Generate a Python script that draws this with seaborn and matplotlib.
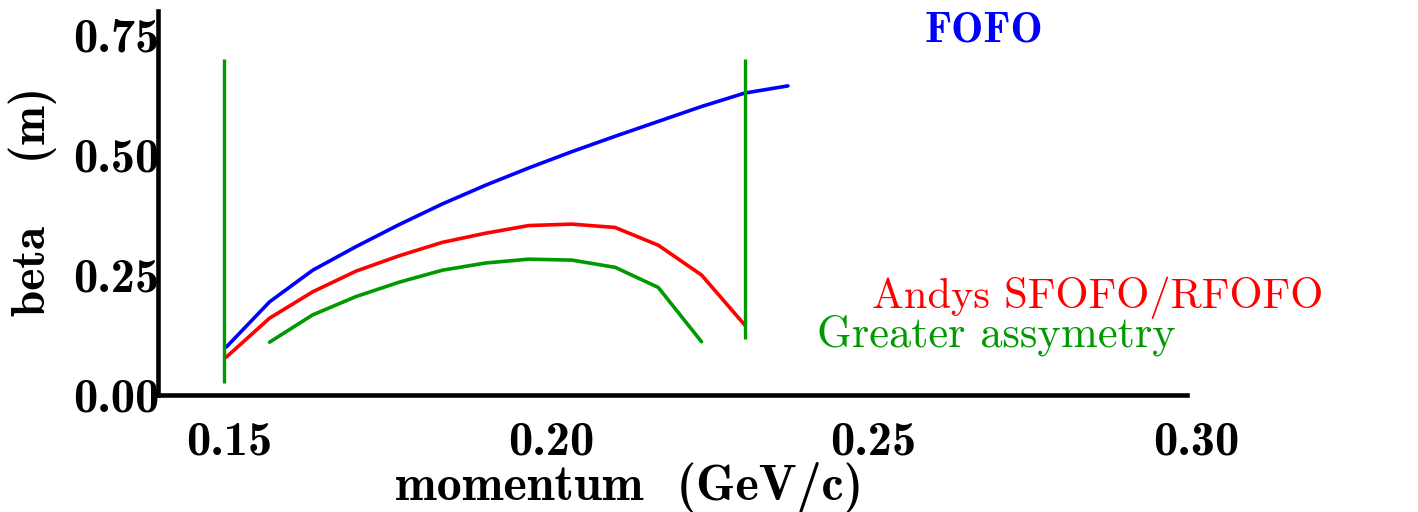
import matplotlib
matplotlib.use("Agg")
import matplotlib.pyplot as plt
import matplotlib.transforms as mtransforms
import seaborn as sns

# momentum grid (GeV/c) and beta values (m)
fofo_p = [0.1510, 0.1577, 0.1644, 0.1711, 0.1778, 0.1845, 0.1912,
          0.1979, 0.2046, 0.2113, 0.2180, 0.2247, 0.2314, 0.2381]
fofo_beta = [0.100, 0.194, 0.260, 0.309, 0.355, 0.398, 0.437,
             0.473, 0.507, 0.539, 0.570, 0.601, 0.629, 0.644]

sfofo_p = [0.1510, 0.1577, 0.1644, 0.1711, 0.1778, 0.1845, 0.1912,
           0.1979, 0.2046, 0.2113, 0.2180, 0.2247, 0.2314]
sfofo_beta = [0.079, 0.160, 0.215, 0.258, 0.290, 0.318, 0.337,
              0.353, 0.356, 0.349, 0.312, 0.250, 0.146]

asym_p = [0.1577, 0.1644, 0.1711, 0.1778, 0.1845, 0.1912,
          0.1979, 0.2046, 0.2113, 0.2180, 0.2247]
asym_beta = [0.110, 0.167, 0.205, 0.235, 0.260, 0.275,
             0.283, 0.281, 0.266, 0.224, 0.111]

# momentum acceptance limits
limit_p = [0.1507, 0.2315]
limit_low = [0.026, 0.116]
limit_high = [0.700, 0.700]

x_ticks = [0.15, 0.20, 0.25, 0.30]
x_tick_labels = ["0.15", "0.20", "0.25", "0.30"]
y_ticks = [0.00, 0.25, 0.50, 0.75]
y_tick_labels = ["0.00", "0.25", "0.50", "0.75"]

BLUE = "#0000ff"
RED = "#ff0000"
GREEN = "#009900"

sns.set_style("white")
plt.rcParams["axes.formatter.use_mathtext"] = True
plt.rcParams["text.color"] = "black"
plt.rcParams["axes.labelcolor"] = "black"
plt.rcParams["xtick.color"] = "black"
plt.rcParams["ytick.color"] = "black"

BOLD = "cmb10"
ROMAN = "cmr10"

fig = plt.figure(figsize=(14.18, 5.12), dpi=100)
ax = fig.add_axes([158 / 1418, 1 - 395 / 512, (1187 - 158) / 1418, (395 - 11) / 512])

sns.lineplot(x=fofo_p, y=fofo_beta, color=BLUE, lw=2.6, ax=ax, sort=False)
sns.lineplot(x=sfofo_p, y=sfofo_beta, color=RED, lw=2.6, ax=ax, sort=False)
sns.lineplot(x=asym_p, y=asym_beta, color=GREEN, lw=2.6, ax=ax, sort=False)
ax.vlines(limit_p, limit_low, limit_high, color=GREEN, lw=2.4)

ax.set_xlim(0.1404, 0.30)
ax.set_ylim(0.0, 0.80)

for side in ("top", "right"):
    ax.spines[side].set_visible(False)
for side in ("left", "bottom"):
    ax.spines[side].set_linewidth(3.3)
    ax.spines[side].set_color("black")

ax.set_xticks(x_ticks)
ax.set_xticklabels(x_tick_labels, fontfamily=BOLD, fontsize=35)
ax.set_yticks(y_ticks)
ax.set_yticklabels(y_tick_labels, fontfamily=BOLD, fontsize=35)
ax.tick_params(axis="x", direction="in", length=17, width=2.0, pad=19)
ax.tick_params(axis="y", direction="in", length=17, width=2.8, pad=-1)
ax.xaxis.get_major_ticks()[-1].tick1line.set_visible(False)

shift = mtransforms.ScaledTranslation(9 / 100, 0, fig.dpi_scale_trans)
for lbl in ax.get_xticklabels():
    lbl.set_transform(lbl.get_transform() + shift)

ax.set_xlabel("momentum  (GeV/c)", fontfamily=BOLD, fontsize=36,
              ha="left", va="baseline")
ax.xaxis.set_label_coords((395 - 158) / 1029, (395 - 500) / 384)
ax.set_ylabel("beta    (m)", fontfamily=BOLD, fontsize=34, va="center")
ax.yaxis.set_label_coords((33 - 158) / 1029, (395 - 202) / 384)

fig.text(925 / 1418, 1 - 42 / 512, "FOFO", color=BLUE, fontfamily=BOLD,
         fontsize=31, ha="left", va="baseline")
fig.text(872 / 1418, 1 - 308 / 512, "Andys SFOFO/RFOFO", color=RED,
         fontfamily=ROMAN, fontsize=30.6, ha="left", va="baseline")
fig.text(817 / 1418, 1 - 346 / 512, "Greater assymetry", color=GREEN,
         fontfamily=ROMAN, fontsize=32, ha="left", va="baseline")

fig.savefig("out.png", dpi=100, facecolor="white")
